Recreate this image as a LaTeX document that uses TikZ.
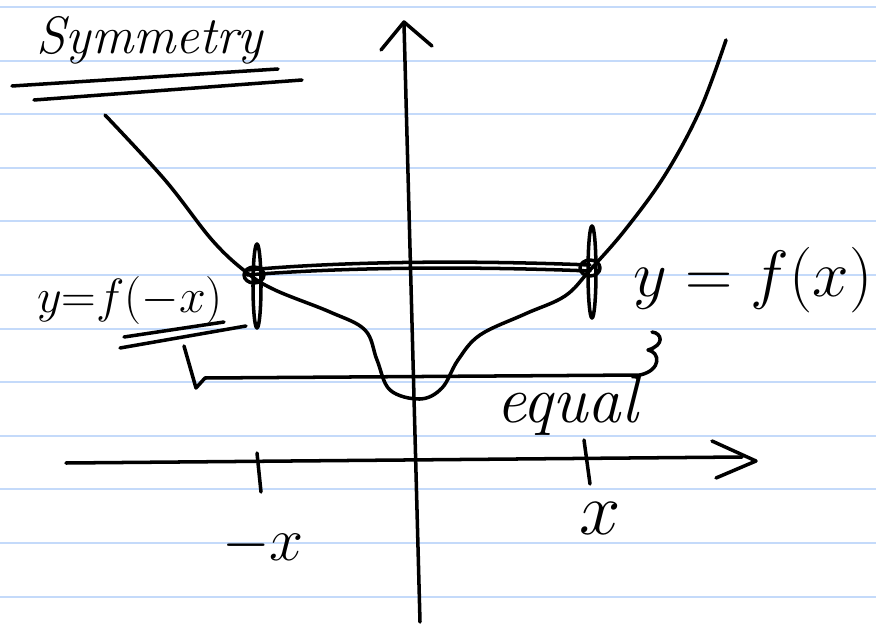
\documentclass[tikz,border=0pt]{standalone}
\usepackage{amsmath, amssymb}
\usepackage{tikz}
\definecolor{ruleblue}{RGB}{196,218,250}

\begin{document}
\begin{tikzpicture}[x=0.02cm, y=-0.02cm, ink/.style={line width=2pt, line cap=round, line join=round},
  every node/.style={font=\fontsize{30}{36}\selectfont, inner sep=1pt}]
  \useasboundingbox[fill=white] (0,0) rectangle (876,625);
  % ruled paper
  \foreach \ly in {7,61,114,168,221,275,329,382,436,489,543,597}
    \draw[ruleblue, line width=1.5pt] (0,\ly) -- (876,\ly);
  % title
  \node (title) at (150,40) {\itshape Symmetry};
  \draw[ink] (12,86) -- (278,69);
  \draw[ink] (34,100) -- (302,80);
  % axes
  \draw[ink] (420,622) -- (404,24);
  \draw[ink] (381,50) -- (404,22) -- (432,46);
  \draw[ink] (66,463) -- (742,457);
  \draw[ink] (712,441) -- (756,461) -- (716,478);
  \draw[ink] (257,453) -- (261,492);
  \draw[ink] (584,440) -- (590,484);
  % curve
  \draw[ink] plot[smooth, tension=0.6] coordinates {(105,115) (165,180) (212,240) (246,272) (275,290) (330,312)
    (365,330) (377,360) (390,390) (420,399) (442,388) (458,360) (480,335) (525,314) (565,296) (590,270)
    (625,230) (665,175) (700,110) (726,40)};
  % chord between the two points
  \draw[ink] (247,270) .. controls (360,260) and (490,261) .. (590,265);
  \draw[ink] (247,275) .. controls (360,266) and (490,267) .. (590,271);
  \draw[ink] (254,275) ellipse (10 and 8);
  \draw[ink] (257,286) ellipse (4 and 42);
  \draw[ink] (590,268) ellipse (10 and 8);
  \draw[ink] (592,272) ellipse (4 and 46);
  % bracket
  \draw[ink] (184,346) -- (196,388) -- (205,378) -- (640,375) .. controls (662,370) and (660,352) .. (648,350)
    .. controls (665,345) and (662,333) .. (652,332);
  % labels
  \node (fneg) at (130,300) {\scalebox{1.1}{$y{=}f({-}x)$}};
  \draw[ink] (124,337) -- (224,322);
  \draw[ink] (120,348) -- (246,326);
  \node (fpos) at (753,280) {\scalebox{1.5}{$y=f(x)$}};
  \node[font=\fontsize{38}{44}\selectfont] (equal) at (567,406) {\itshape equal};
  \node (negx) at (263,545) {\scalebox{1.4}{$-x$}};
  \node (posx) at (600,518) {\scalebox{1.7}{$x$}};
\end{tikzpicture}
\end{document}
